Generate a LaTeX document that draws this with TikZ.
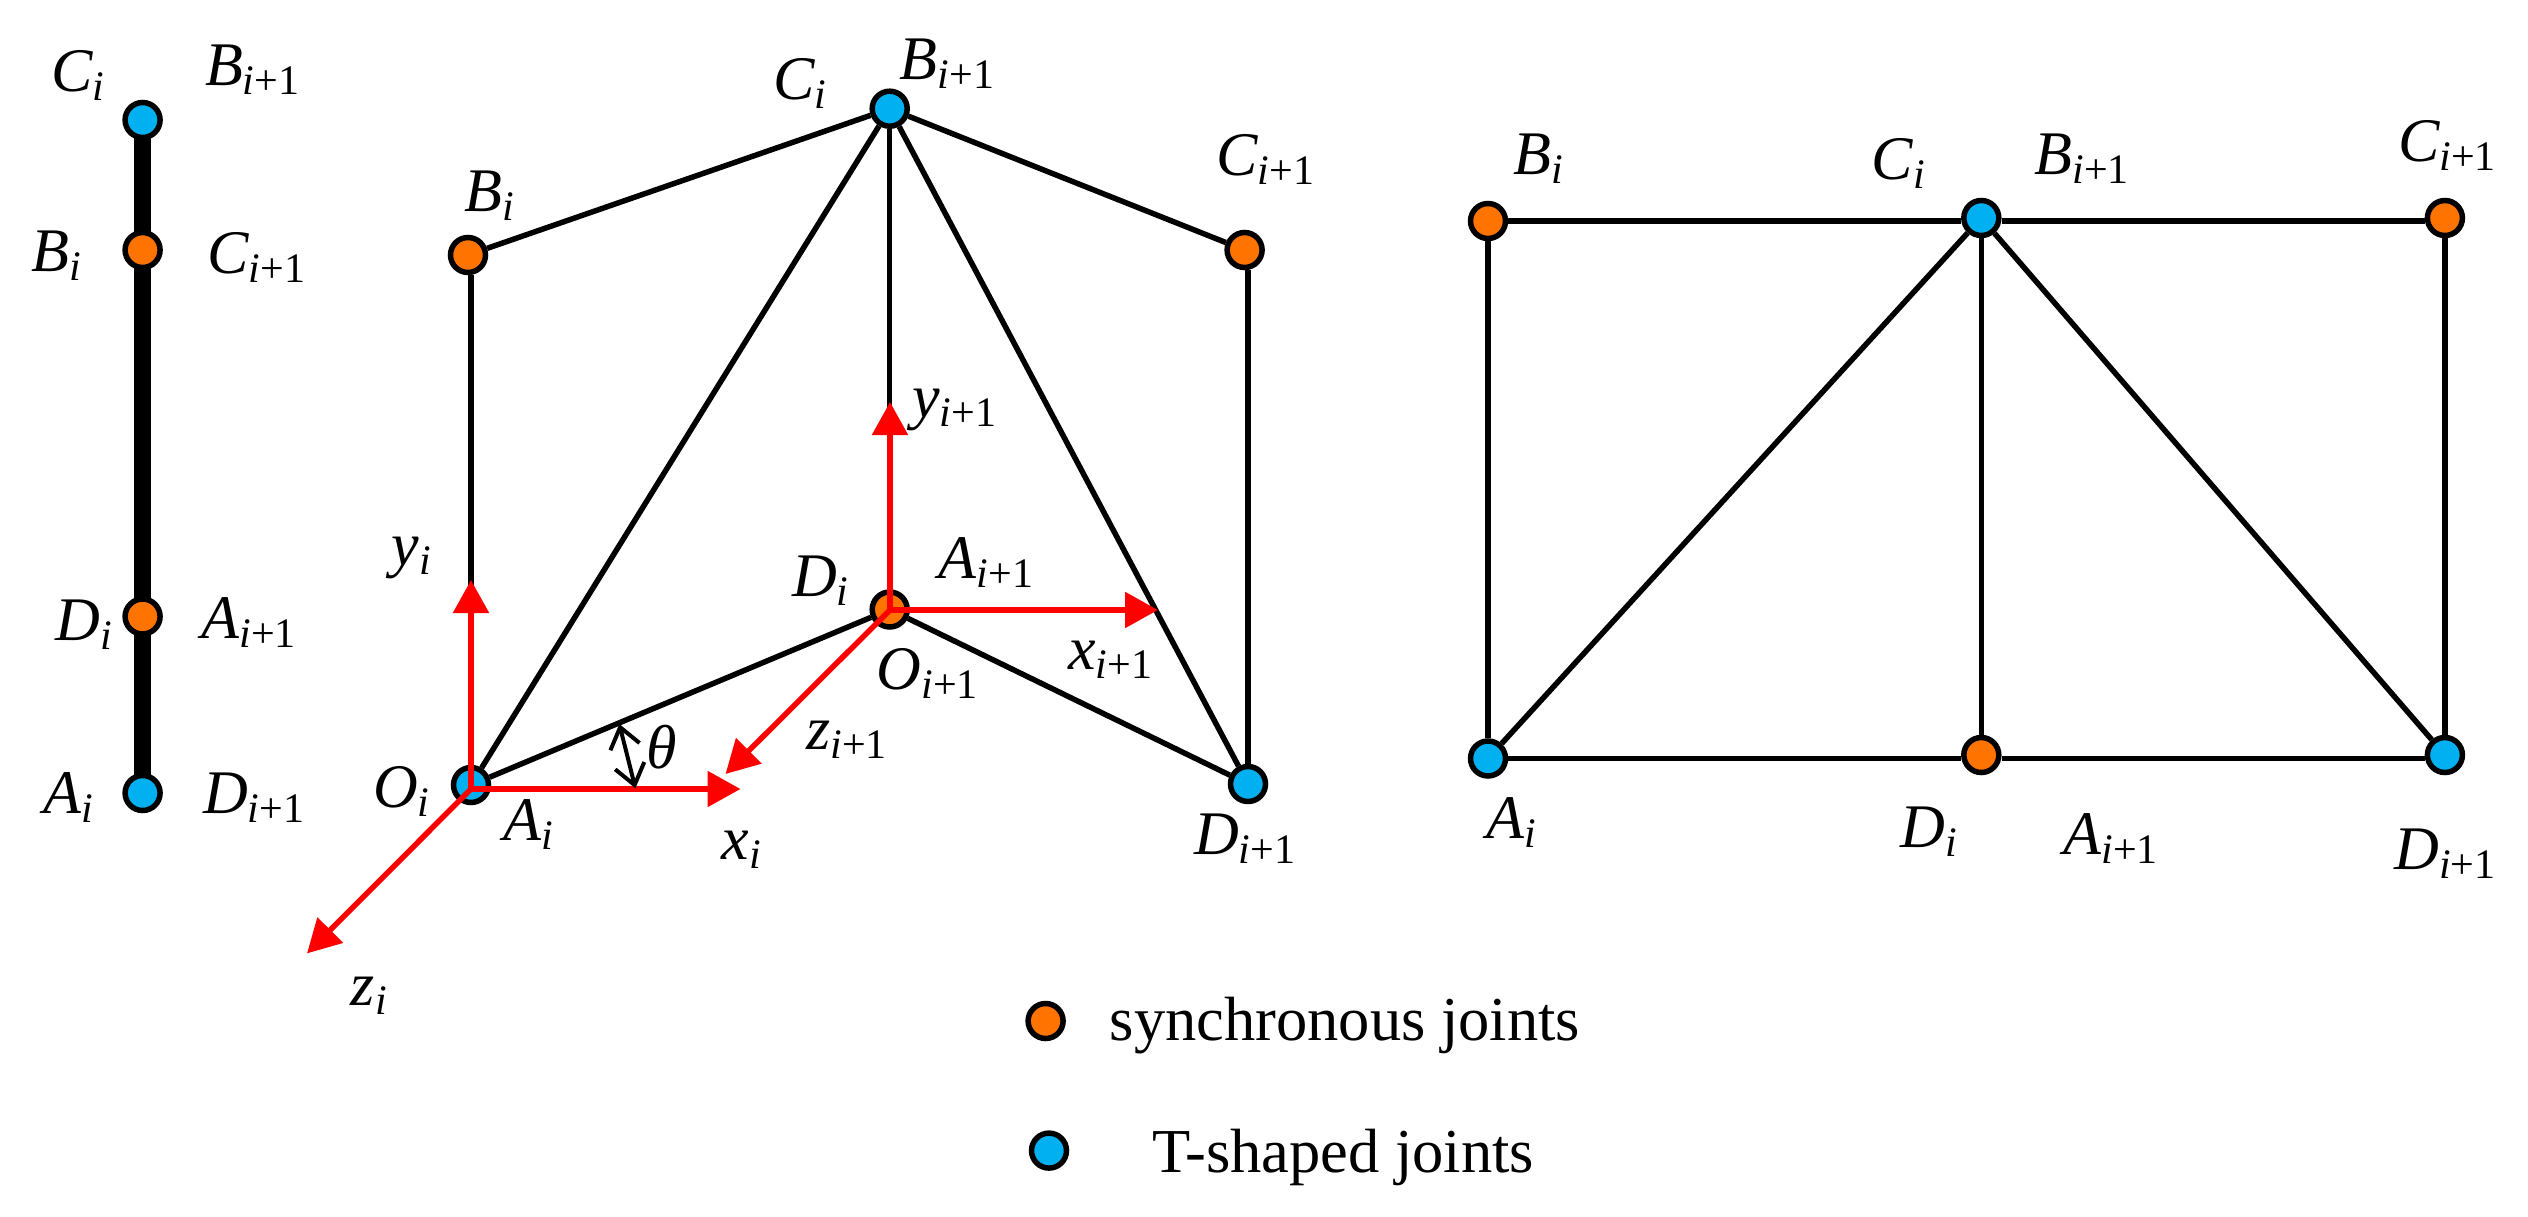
\documentclass[tikz,border=0pt]{standalone}
\usepackage{fontspec}
\setmainfont{Liberation Serif}
\usetikzlibrary{arrows.meta,backgrounds}
\newcommand{\subi}{\raisebox{-9pt}{\fontsize{42}{42}\selectfont\itshape i}}
\newcommand{\subp}{\raisebox{-9pt}{\fontsize{42}{42}\selectfont{\itshape i}+1}}
\newcommand{\li}[1]{{\itshape #1}\subi}
\newcommand{\lp}[1]{{\itshape #1}\subp}
\tikzset{
  pic px/.style={x=1pt,y=-1pt},
  joint/.style={circle,draw=black,line width=5.5pt,minimum size=35pt,inner sep=0pt},
  sync/.style={joint,fill=syncorange},
  tee/.style={joint,fill=teeblue},
  link/.style={draw=black,line width=5.5pt},
  bar/.style={draw=black,line width=17pt,shorten <=-8pt,shorten >=-8pt},
  axis/.style={draw=red,line width=5.5pt,-{Triangle[length=33pt,width=35pt,fill=red]}},
  anglemark/.style={draw=black,line width=4pt,{Straight Barb[length=20pt,width=30pt]}-{Straight Barb[length=20pt,width=30pt]}},
  lab/.style={anchor=base west,inner sep=0pt,font=\fontsize{62}{62}\selectfont},
  legend/.style={anchor=base west,inner sep=0pt,font=\fontsize{62.5}{62.5}\selectfont},
}
\definecolor{syncorange}{HTML}{FF7300}
\definecolor{teeblue}{HTML}{00B0F0}
\begin{document}
\begin{tikzpicture}[pic px]
\useasboundingbox (0,0) rectangle (2528,1217);
% left bar
\node[tee]  (LC) at (142.6,120) {};
\node[sync] (LB) at (142.6,250) {};
\node[sync] (LD) at (142.6,616.5) {};
\node[tee]  (LA) at (142.6,793) {};
\begin{scope}[on background layer]
\path[bar] (LC) -- (LB);
\path[bar] (LB) -- (LD);
\path[bar] (LD) -- (LA);
\end{scope}
\node[lab] (l1) at (51.4,91.6) {\li{C}};
\node[lab] (l2) at (204.8,85.4) {\lp{B}};
\node[lab] (l3) at (31.5,271.7) {\li{B}};
\node[lab] (l4) at (207.3,273.3) {\lp{C}};
\node[lab] (l5) at (55.6,640.5) {\li{D}};
\node[lab] (l6) at (201.5,638) {\lp{A}};
\node[lab] (l7) at (43,813.7) {\li{A}};
\node[lab] (l8) at (203,813.7) {\lp{D}};
% middle
\node[sync] (MB) at (468,255) {};
\node[tee]  (MC) at (889.7,108.7) {};
\node[sync] (MCp) at (1244.6,250) {};
\node[tee]  (MA) at (471,785) {};
\node[sync] (MD) at (889.7,609.5) {};
\node[tee]  (MDp) at (1248,784) {};
\path[link] (MB) -- (MC);
\path[link] (MC) -- (MCp);
\path[link] (MA) -- (MC);
\path[link] (MC) -- (MD);
\path[link] (MC) -- (MDp);
\path[link] (MA) -- (MD);
\path[link] (MD) -- (MDp);
\path[link] (MA |- MB.south) -- (MA);
\path[link] (MDp |- MCp.south) -- (MDp);
\coordinate (O1) at (471,789);
\coordinate (X1) at (740.5,789);
\coordinate (Y1) at (471,580);
\coordinate (Z1) at (307,953.4);
\coordinate (O2) at (890,610);
\coordinate (X2) at (1158,610);
\coordinate (Y2) at (890,402);
\coordinate (Z2) at (725.5,774);
\path[axis] (O1) -- (X1);
\path[axis] (O1) -- (Y1);
\path[axis] (O1) -- (Z1);
\path[axis] (O2) -- (X2);
\path[axis] (O2) -- (Y2);
\path[axis] (O2) -- (Z2);
\coordinate (T1) at (619.3,724);
\coordinate (T2) at (635.4,788.3);
\path[anglemark] (T1) -- (T2);
\node[lab,anchor=center] (th) at (662,747) {\itshape θ};
\node[lab] at (772.8,99.4) {\li{C}};
\node[lab] at (899.7,80) {\lp{B}};
\node[lab] at (464,212) {\li{B}};
\node[lab] at (1216.4,175.5) {\lp{C}};
\node[lab] at (391.4,565) {\li{y}};
\node[lab] at (912,417) {\lp{y}};
\node[lab] at (792,596) {\li{D}};
\node[lab] at (938.6,578.4) {\lp{A}};
\node[lab] at (876.5,689.4) {\lp{O}};
\node[lab] at (1068,669) {\lp{x}};
\node[lab] at (806,749) {\lp{z}};
\node[lab] at (373,807.5) {\li{O}};
\node[lab] at (503.3,840) {\li{A}};
\node[lab] at (721.4,859.5) {\li{x}};
\node[lab] at (350.7,1005.4) {\li{z}};
\node[lab] at (1194,854) {\lp{D}};
% right
\node[sync] (RB) at (1488,221) {};
\node[tee]  (RC) at (1981.3,218) {};
\node[sync] (RCp) at (2444.9,218) {};
\node[tee]  (RA) at (1488,758.5) {};
\node[sync] (RD) at (1981.3,755) {};
\node[tee]  (RDp) at (2444.9,755) {};
\path[link] (RB) -- (RB -| RC.west);
\path[link] (RB -| RC.east) -- (RB -| RCp.west);
\path[link] (RA) -- (RA -| RD.west);
\path[link] (RA -| RD.east) -- (RA -| RDp.west);
\path[link] (RB) -- (RA);
\path[link] (RC) -- (RD);
\path[link] (RCp) -- (RDp);
\path[link] (RA) -- (RC);
\path[link] (RC) -- (RDp);
\node[lab] at (1513,174.7) {\li{B}};
\node[lab] at (1871.7,180) {\li{C}};
\node[lab] at (2034.5,174.7) {\lp{B}};
\node[lab] at (2397.9,161.5) {\lp{C}};
\node[lab] at (1486.4,838.5) {\li{A}};
\node[lab] at (1900.6,847.8) {\li{D}};
\node[lab] at (2063.5,854) {\lp{A}};
\node[lab] at (2394,869.6) {\lp{D}};
% legend
\node[sync] (K1) at (1045.6,1021) {};
\node[tee]  (K2) at (1049,1150.6) {};
\node[legend] (K1t) at (1109.5,1040) {synchronous joints};
\node[legend] (K2t) at (1152.6,1172.4) {T-shaped joints};
\end{tikzpicture}
\end{document}
